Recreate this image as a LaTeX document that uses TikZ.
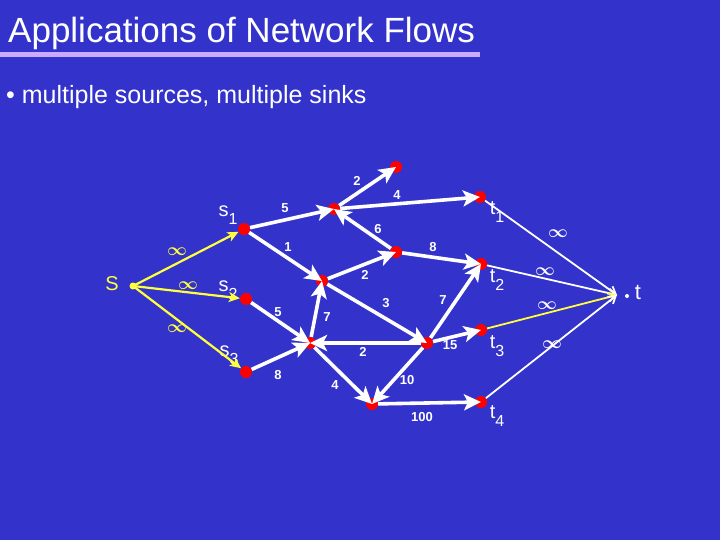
\documentclass[tikz,border=0pt]{standalone}
\usepackage{fontspec}
\usepackage{bm}
\setmainfont{Liberation Sans}
\usetikzlibrary{arrows.meta}
\definecolor{bg}{RGB}{51,51,204}
\definecolor{ylw}{RGB}{255,255,60}
\definecolor{lav}{RGB}{204,170,255}
\definecolor{rd}{RGB}{255,0,0}
\newcommand{\lbl}[2]{#1\raisebox{-0.4em}{\fontsize{16}{16}\selectfont #2}}
\begin{document}
\begin{tikzpicture}[x=1pt,y=-1pt,
  rnode/.style={circle,fill=rd,inner sep=0pt,minimum size=12pt},
  wedge/.style={white,line width=3.6pt,-{Stealth[length=17pt,width=16pt,inset=4pt]}},
  yedge/.style={ylw,line width=2.2pt,-{Stealth[length=11pt,width=10pt,inset=3pt]}},
  tedge/.style={white,line width=1.8pt,-{Straight Barb[length=7pt,width=9pt]}},
  elab/.style={white,font=\fontsize{13}{13}\selectfont\bfseries,inner sep=0pt},
  inflab/.style={font=\fontsize{16}{16}\selectfont,inner sep=0pt},
  nlab/.style={white,font=\fontsize{20}{20}\selectfont,inner sep=0pt}]
\fill[bg] (0,0) rectangle (720,540);
\useasboundingbox (0,0) rectangle (720,540);
% title
\node[anchor=base west,white,inner sep=0pt,font=\fontsize{35}{35}\selectfont] (title) at (8,43) {Applications of Network Flows};
\fill[lav] (0,52) rectangle (480,57);
\node[anchor=base west,white,inner sep=0pt,font=\fontsize{25}{25}\selectfont] (bul) at (6,104) {\textbullet\ multiple sources, multiple sinks};
% nodes
\node[circle,fill=ylw,inner sep=0pt,minimum size=7pt] (s) at (133,286) {};
\node[rnode] (s1) at (244,229) {};
\node[rnode] (s2) at (246,299) {};
\node[rnode] (s3) at (246,372) {};
\node[rnode] (A) at (396,167) {};
\node[rnode] (B) at (334,209) {};
\node[rnode] (t1) at (480,197) {};
\node[rnode] (D) at (396,252) {};
\node[rnode] (t2) at (481,264) {};
\node[rnode] (F) at (322,281) {};
\node[rnode] (G) at (310,343) {};
\node[rnode] (H) at (427,343) {};
\node[rnode] (t3) at (481,330) {};
\node[rnode] (I) at (372,404) {};
\node[rnode] (t4) at (481,402) {};
\coordinate (T) at (617,295);
\node[circle,fill=white,inner sep=0pt,minimum size=4pt] (tdot) at (627,296) {};
% node labels
\node[ylw,font=\fontsize{20}{20}\selectfont,inner sep=0pt] (slab) at (112,284) {S};
\node[nlab] (s1l) at (228,215) {\lbl{s}{1}};
\node[nlab] (s2l) at (228,290) {\lbl{s}{2}};
\node[nlab] (s3l) at (229,355) {\lbl{s}{3}};
\node[nlab] (t1l) at (497,212) {\lbl{t}{1}};
\node[nlab] (t2l) at (497,280) {\lbl{t}{2}};
\node[nlab] (t3l) at (497,346) {\lbl{t}{3}};
\node[nlab] (t4l) at (497,416) {\lbl{t}{4}};
\node[white,font=\fontsize{22}{22}\selectfont,inner sep=0pt] (tl) at (638,292) {t};
% yellow source edges
\draw[yedge] (s.center) -- (s1);
\draw[yedge] (s.center) -- (s2);
\draw[yedge] (s.center) -- (s3);
% white edges
\draw[wedge] (s1) -- (B.center);
\draw[wedge] (s1) -- (F.center);
\draw[wedge] (B) -- (A.center);
\draw[wedge] (B) -- (t1.center);
\draw[wedge] (D) -- (B.center);
\draw[wedge] (D) -- (t2.center);
\draw[wedge] (F) -- (D.center);
\draw[wedge] (F) -- (H.center);
\draw[wedge] (G) -- (F.center);
\draw[wedge] (s2) -- (G.center);
\draw[wedge] (s3) -- (G.center);
\draw[wedge] (H) -- (G.center);
\draw[wedge] (G) -- (I.center);
\draw[wedge] (H) -- (I.center);
\draw[wedge] (H) -- (t2.center);
\draw[wedge] (H) -- (t3.center);
\draw[wedge] (I) -- (t4.center);
% sink edges
\draw[tedge] (t1) -- (T);
\draw[tedge] (t2) -- (T);
\draw[tedge,ylw] (t3) -- (T);
\draw[tedge] (t4) -- (T);
% edge labels
\node[elab] (l1) at (357,181) {2};
\node[elab] (l2) at (397,195) {4};
\node[elab] (l3) at (285,208) {5};
\node[elab] (l4) at (378,229) {6};
\node[elab] (l5) at (288,247) {1};
\node[elab] (l6) at (433,247) {8};
\node[elab] (l7) at (365,275) {2};
\node[elab] (l8) at (386,303) {3};
\node[elab] (l9) at (443,300) {7};
\node[elab] (l10) at (327,317) {7};
\node[elab] (l11) at (278,312) {5};
\node[elab] (l12) at (363,352) {2};
\node[elab] (l13) at (450,345) {15};
\node[elab] (l14) at (278,375) {8};
\node[elab] (l15) at (335,385) {4};
\node[elab] (l16) at (407,380) {10};
\node[elab] (l17) at (422,417) {100};
\node[inflab,ylw] (i1) at (177,252) {$\bm{\infty}$};
\node[inflab,ylw] (i2) at (188,286) {$\bm{\infty}$};
\node[inflab,ylw] (i3) at (177,329) {$\bm{\infty}$};
\node[inflab,white] (i4) at (558,234) {$\bm{\infty}$};
\node[inflab,white] (i5) at (545,272) {$\bm{\infty}$};
\node[inflab,white] (i6) at (547,306) {$\bm{\infty}$};
\node[inflab,white] (i7) at (552,345) {$\bm{\infty}$};
\end{tikzpicture}
\end{document}
